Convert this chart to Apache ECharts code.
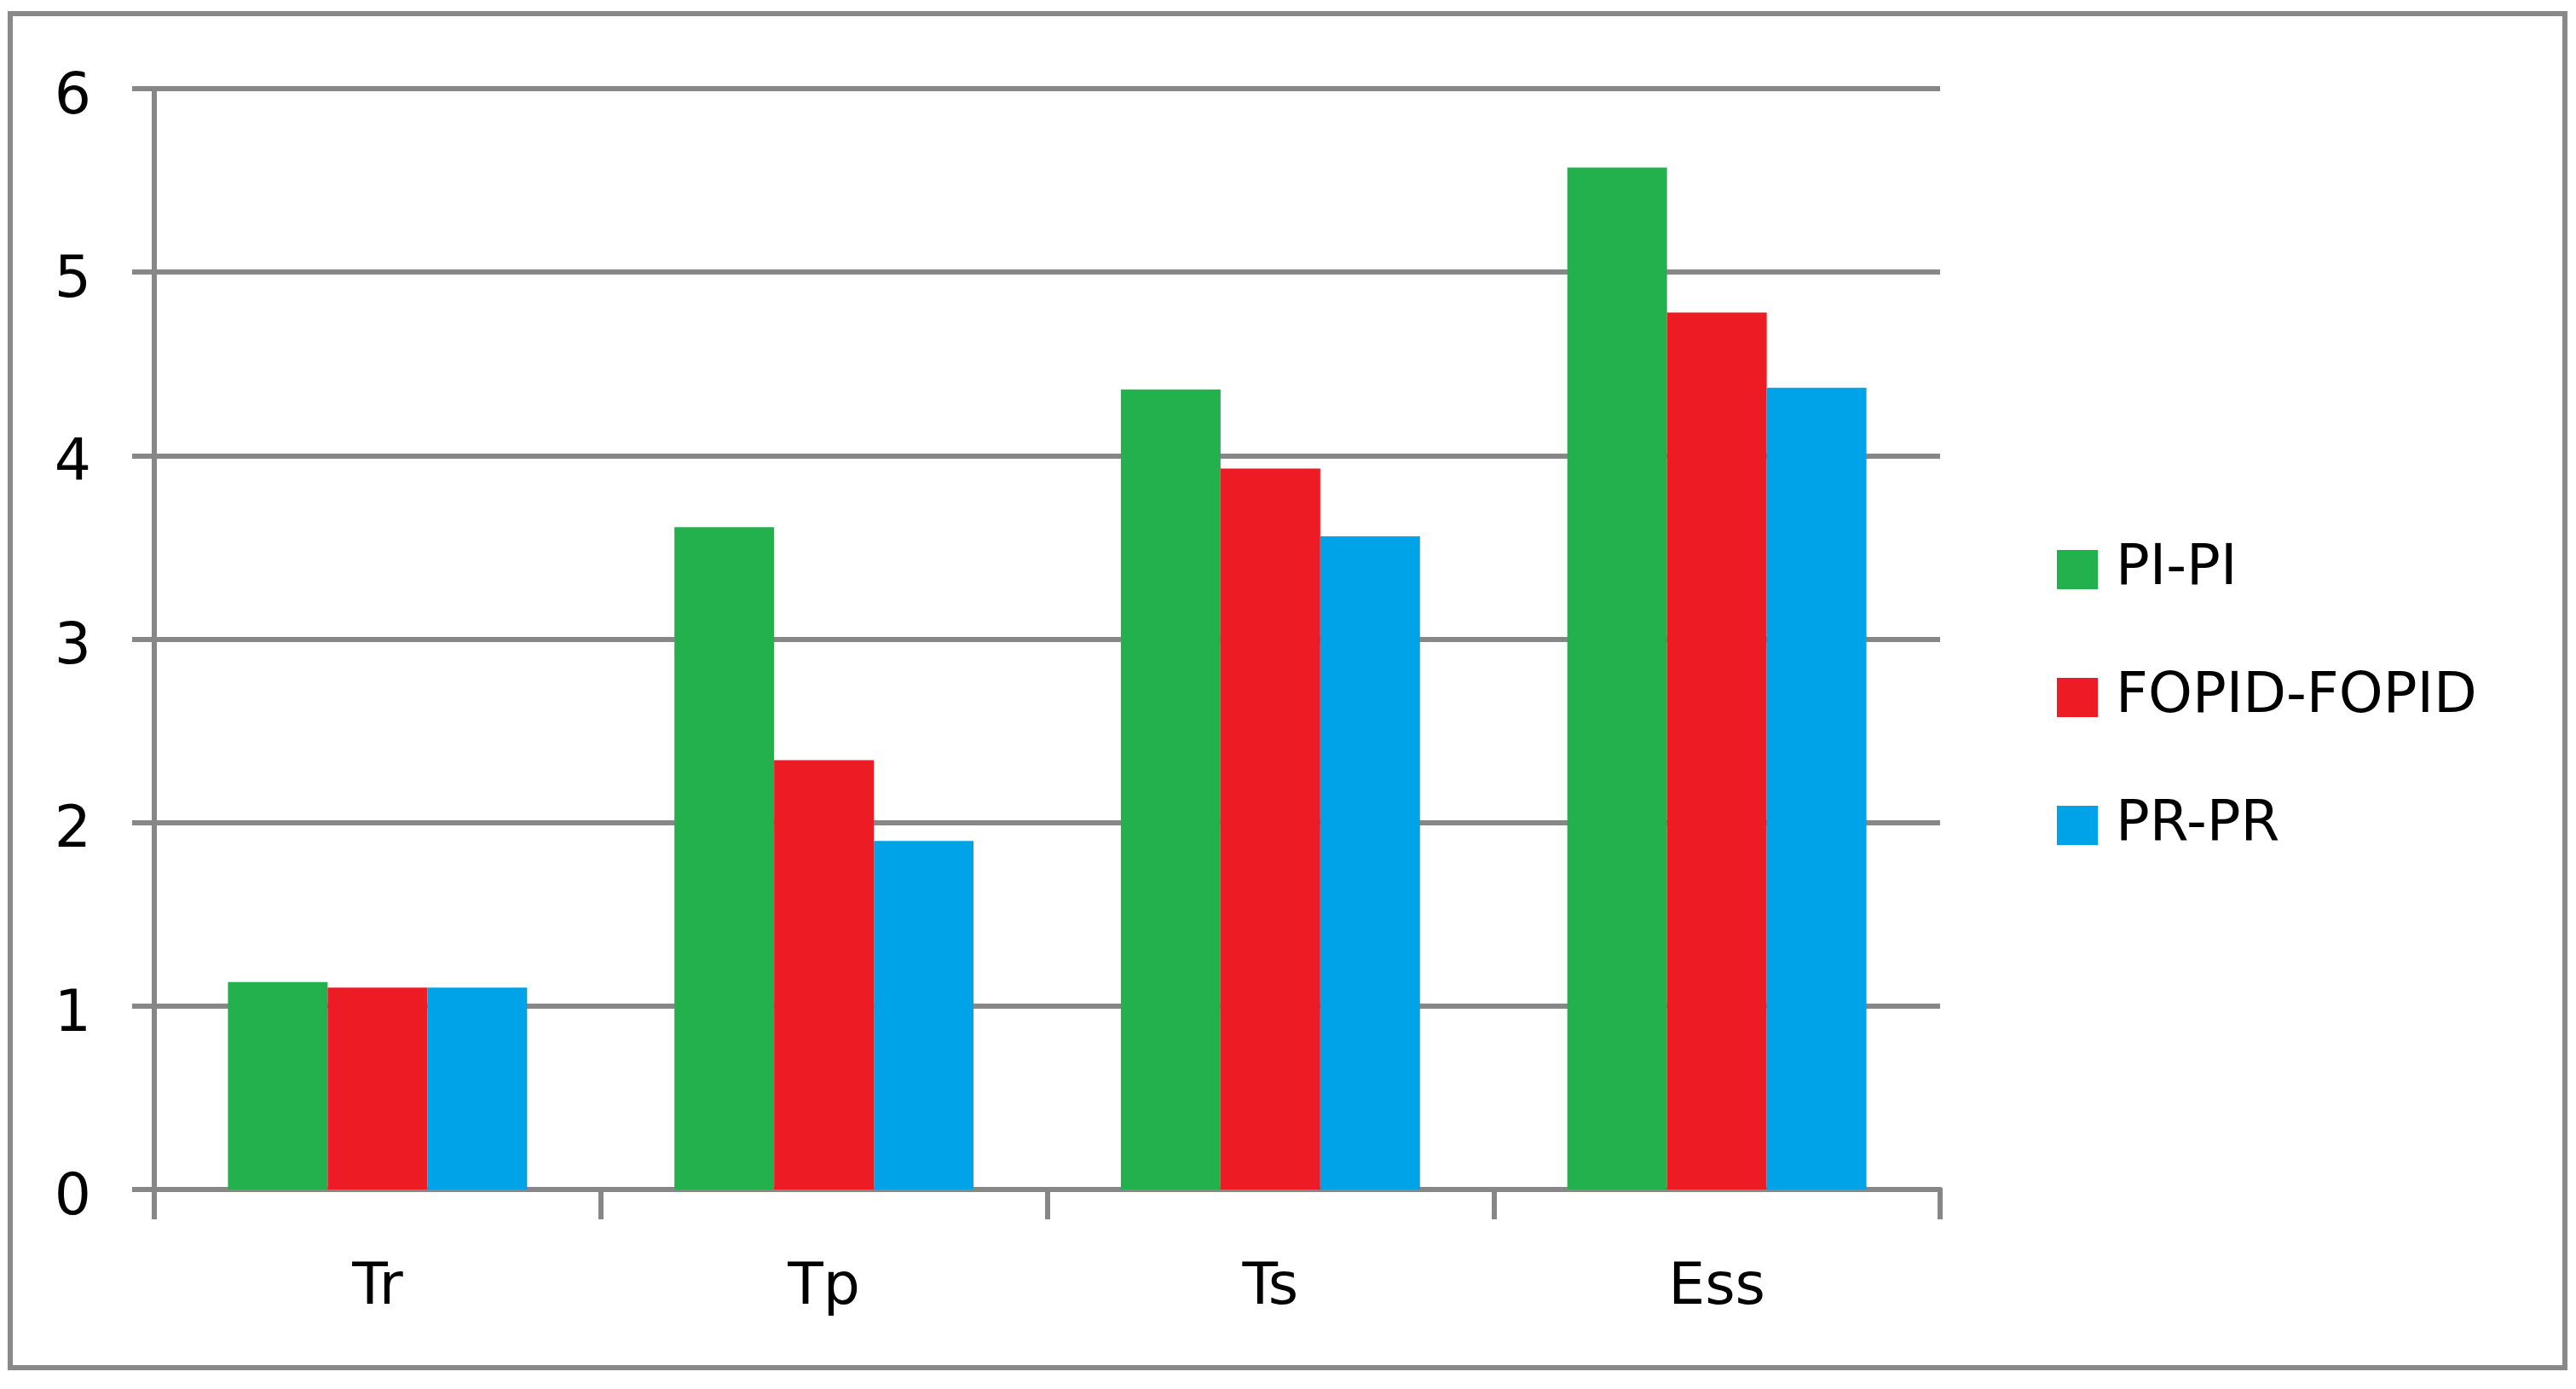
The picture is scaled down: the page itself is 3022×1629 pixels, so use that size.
<!DOCTYPE html>
<html>
<head>
<meta charset="utf-8">
<title>Tr / Tp / Ts / Ess</title>
<script src="https://cdn.jsdelivr.net/npm/echarts@6/dist/echarts.min.js"></script>
<style>
  html, body { margin: 0; padding: 0; background: #fff; }
  #chart { width: 3022px; height: 1629px; }
</style>
</head>
<body>
<div id="chart"></div>
<script>
// values
const categories = ['Tr', 'Tp', 'Ts', 'Ess'];
const seriesNames = ['PI-PI', 'FOPID-FOPID', 'PR-PR'];
const piPi = [1.13, 3.61, 4.36, 5.57];
const fopidFopid = [1.10, 2.34, 3.93, 4.78];
const prPr = [1.10, 1.90, 3.56, 4.37];
const yTicks = [0, 1, 2, 3, 4, 5, 6];

const colors = ['#22B14C', '#ED1C24', '#00A2E8'];
const lineGray = '#878787';
const font = 'DejaVu Sans, Verdana, sans-serif';

const chart = echarts.init(document.getElementById('chart'));

const seriesData = [piPi, fopidFopid, prPr].map((vals, idx) => ({
  name: seriesNames[idx],
  type: 'bar',
  barGap: '0%',
  barCategoryGap: '33%',
  itemStyle: { color: colors[idx] },
  data: vals
}));

const option = {
  animation: false,
  backgroundColor: '#fff',
  graphic: [{
    type: 'rect',
    shape: { x: 12, y: 16, width: 2997, height: 1588 },
    style: { fill: 'none', stroke: '#898989', lineWidth: 6 },
    silent: true
  }],
  legend: {
    orient: 'vertical',
    left: 2408,
    top: 630,
    icon: 'rect',
    itemWidth: 48,
    itemHeight: 46,
    itemGap: 84,
    textStyle: { fontFamily: font, fontSize: 66, lineHeight: 66, color: '#000', padding: [0, 0, 0, 16] },
    data: seriesNames
  },
  grid: {
    left: 181,
    right: 746,
    top: 104,
    bottom: 234,
    containLabel: false
  },
  xAxis: {
    type: 'category',
    data: categories,
    axisLine: { show: true, lineStyle: { color: lineGray, width: 6 } },
    axisTick: { show: true, length: 35, lineStyle: { color: lineGray, width: 6 } },
    axisLabel: { color: '#000', fontFamily: font, fontSize: 68, margin: 82 }
  },
  yAxis: {
    type: 'value',
    min: yTicks[0],
    max: yTicks[yTicks.length - 1],
    interval: 1,
    axisLine: { show: true, lineStyle: { color: lineGray, width: 6 } },
    axisTick: { show: true, length: 26, lineStyle: { color: lineGray, width: 6 } },
    splitLine: { show: true, lineStyle: { color: lineGray, width: 6 } },
    axisLabel: {
      color: '#000', fontFamily: font, fontSize: 68, margin: 74,
      verticalAlign: 'top', lineHeight: 22
    }
  },
  series: seriesData
};

chart.setOption(option);
</script>
</body>
</html>
